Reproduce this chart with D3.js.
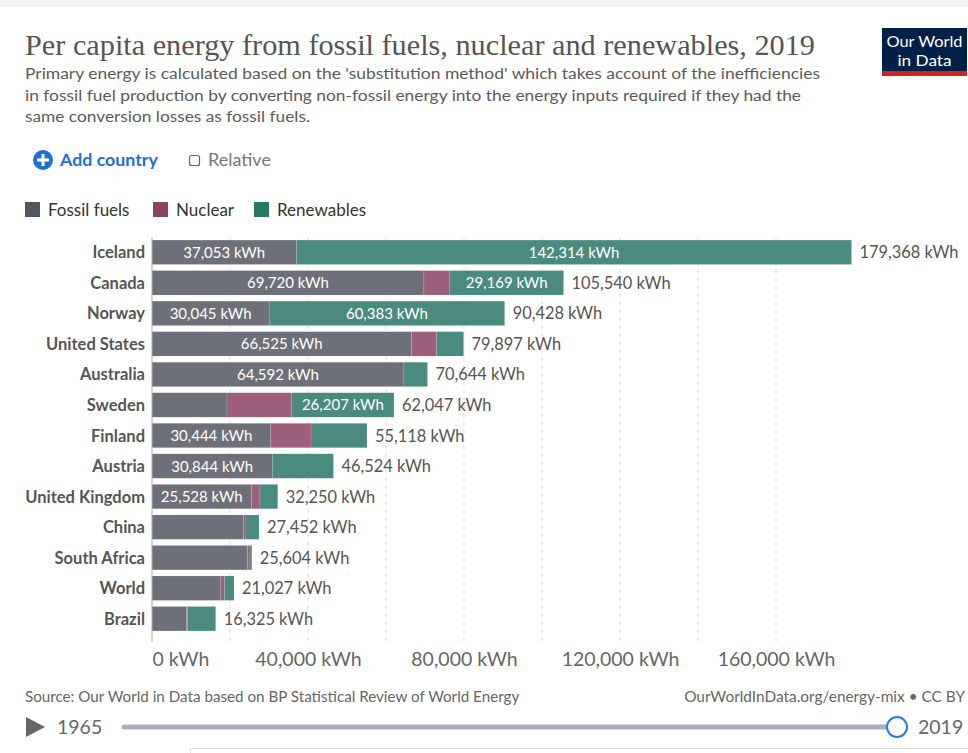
<!DOCTYPE html>
<html><head><meta charset="utf-8">
<script src="https://cdn.jsdelivr.net/npm/d3@7"></script>
<style>
body{margin:0;background:#fff;}
svg{display:block;font-family:Lato,"Noto Sans",sans-serif;}
</style></head>
<body><svg id="c" width="968" height="753"></svg>
<script>
const countries = ["Iceland","Canada","Norway","United States","Australia","Sweden","Finland","Austria","United Kingdom","China","South Africa","World","Brazil"];
const fossil     = [37053, 69720, 30045, 66525, 64592, 19230, 30444, 30844, 25528, 23500, 24500, 17650,  8900];
const nuclear    = [    0,  6651,     0,  6420,     0, 16610, 10330,     0,  2150,   600,   620,   910,   200];
const renewables = [142314, 29169, 60383, 6952,  6052, 26207, 14344, 15680,  4572,  3352,   484,  2467,  7225];
const totals     = [179368,105540, 90428, 79897, 70644, 62047, 55118, 46524, 32250, 27452, 25604, 21027, 16325];
const seriesNames = ["Fossil fuels","Nuclear","Renewables"];
const barColors = ["#6e7079","#9c5f7c","#4b8a7f"];
const legendColors = ["#54575f","#8a4565","#2a7765"];
const tickValues = [0,40000,80000,120000,160000];
const gridValues = [20000,40000,60000,80000,100000,120000,140000,160000];

const svg = d3.select("#c");
const fmt = d3.format(",");

// top strip
svg.append("rect").attr("x",0).attr("y",0).attr("width",968).attr("height",7).attr("fill","#f3f3f3");

// title
svg.append("text").attr("x",25).attr("y",55).text("Per capita energy from fossil fuels, nuclear and renewables, 2019")
  .attr("font-family","'Liberation Serif','DejaVu Serif',serif").attr("font-size",29).attr("fill","#555")
  .attr("textLength",790).attr("lengthAdjust","spacingAndGlyphs");
const sub = ["Primary energy is calculated based on the 'substitution method' which takes account of the inefficiencies",
 "in fossil fuel production by converting non-fossil energy into the energy inputs required if they had the",
 "same conversion losses as fossil fuels."];
const subW = [795, 776, 285];
sub.forEach((s,i)=>svg.append("text").attr("x",25).attr("y",79+i*21.5).text(s)
  .attr("font-size",15.5).attr("fill","#5b5b5b").attr("textLength",subW[i]).attr("lengthAdjust","spacingAndGlyphs"));

// logo
svg.append("rect").attr("x",882).attr("y",28).attr("width",85).attr("height",48).attr("fill","#002147");
svg.append("rect").attr("x",882).attr("y",71).attr("width",85).attr("height",5).attr("fill","#ce261e");
svg.append("text").attr("x",924.5).attr("y",47).attr("text-anchor","middle").attr("fill","#fff").attr("font-size",15)
  .attr("textLength",76).attr("lengthAdjust","spacingAndGlyphs").text("Our World");
svg.append("text").attr("x",924.5).attr("y",65.5).attr("text-anchor","middle").attr("fill","#fff").attr("font-size",15)
  .attr("textLength",54).attr("lengthAdjust","spacingAndGlyphs").text("in Data");

// controls
svg.append("circle").attr("cx",43).attr("cy",160).attr("r",10).attr("fill","#1f6fd6");
svg.append("path").attr("d","M43,154V166M37,160H49").attr("stroke","#fff").attr("stroke-width",3);
svg.append("text").attr("x",60).attr("y",166).attr("font-size",17.8).attr("font-weight","bold").attr("fill","#1f6fd6").text("Add country");
svg.append("rect").attr("x",189.5).attr("y",155.5).attr("width",10).attr("height",10).attr("rx",2).attr("fill","#fff").attr("stroke","#666").attr("stroke-width",1.2);
svg.append("text").attr("x",208).attr("y",166).attr("font-size",18).attr("fill","#777").text("Relative");

// legend
const legX = [25,153,254];
seriesNames.forEach((n,i)=>{
  svg.append("rect").attr("x",legX[i]).attr("y",202).attr("width",15).attr("height",15).attr("fill",legendColors[i]);
  svg.append("text").attr("x",legX[i]+23).attr("y",215.5).attr("font-size",17).attr("fill","#333").text(n);
});

// scales
const x = d3.scaleLinear().domain([0,180000]).range([152,854]);
const y = d3.scaleBand().domain(countries).range([237,634]).paddingInner(0.2).paddingOuter(0.1);

// grid
svg.append("g").selectAll("line").data(gridValues).join("line")
  .attr("x1",d=>x(d)).attr("x2",d=>x(d)).attr("y1",237).attr("y2",642)
  .attr("stroke","#d9d9d9").attr("stroke-dasharray","4,4");

// stacked bars
const rows = countries.map((c,i)=>({country:c,"Fossil fuels":fossil[i],"Nuclear":nuclear[i],"Renewables":renewables[i],total:totals[i]}));
const stack = d3.stack().keys(seriesNames)(rows);
const g = svg.append("g");
stack.forEach((layer,si)=>{
  layer.forEach(d=>{
    const w = x(d[1])-x(d[0]);
    if (w<=0) return;
    g.append("rect").attr("x",x(d[0])).attr("y",y(d.data.country)).attr("width",w).attr("height",y.bandwidth())
      .attr("fill",barColors[si]).attr("stroke","#fff").attr("stroke-opacity",0.25).attr("stroke-width",0.5);
  });
});
// segment labels
stack.forEach((layer,si)=>{
  layer.forEach(d=>{
    const w = x(d[1])-x(d[0]);
    const v = d[1]-d[0];
    if (v<=0) return;
    const t = g.append("text").attr("x",(x(d[0])+x(d[1]))/2).attr("y",y(d.data.country)+y.bandwidth()/2+5.5)
      .attr("text-anchor","middle").attr("fill","#fff").attr("font-size",15).text(fmt(v)+" kWh");
    if (t.node().getComputedTextLength()+16 > w) t.remove();
  });
});
// totals
g.selectAll("text.tot").data(rows).join("text").attr("class","tot")
  .attr("x",d=>x(d.total)+8).attr("y",d=>y(d.country)+y.bandwidth()/2+6)
  .attr("font-size",16.4).attr("fill","#555").text(d=>fmt(d.total)+" kWh");
// category labels
g.selectAll("text.cat").data(countries).join("text").attr("class","cat")
  .attr("x",145).attr("y",d=>y(d)+y.bandwidth()/2+6).attr("text-anchor","end")
  .attr("font-size",16.5).attr("font-weight","bold").attr("fill","#555").text(d=>d);

// axis line
svg.append("line").attr("x1",152).attr("x2",152).attr("y1",237).attr("y2",642).attr("stroke","#aaa");
// x tick labels
const xa = d3.axisBottom(x).tickValues(tickValues).tickSize(0).tickFormat(d=>fmt(d)+" kWh");
const ag = svg.append("g").attr("transform","translate(0,649)").call(xa);
ag.select(".domain").remove();
ag.selectAll("text").attr("font-size",19.5).attr("fill","#666").attr("font-family","Lato,sans-serif");
ag.selectAll(".tick").filter(d=>d===0).select("text").attr("text-anchor","start");

// footer
svg.append("text").attr("x",25).attr("y",702).attr("font-size",15.2).attr("fill","#666").text("Source: Our World in Data based on BP Statistical Review of World Energy");
svg.append("text").attr("x",965).attr("y",702).attr("text-anchor","end").attr("font-size",15.4).attr("fill","#666").text("OurWorldInData.org/energy-mix • CC BY");

// timeline
svg.append("path").attr("d","M26,717L26,737L45,727Z").attr("fill","#666");
svg.append("text").attr("x",57).attr("y",734).attr("font-size",19.5).attr("fill","#666").text("1965");
svg.append("line").attr("x1",124).attr("x2",895).attr("y1",727).attr("y2",727).attr("stroke","#a9b1bb").attr("stroke-width",5).attr("stroke-linecap","round");
svg.append("circle").attr("cx",897).attr("cy",727).attr("r",10).attr("fill","#fff").attr("stroke","#2d7be0").attr("stroke-width",2);
svg.append("text").attr("x",918).attr("y",734).attr("font-size",19.5).attr("fill","#666").text("2019");
svg.append("line").attr("x1",190).attr("x2",968).attr("y1",748.5).attr("y2",748.5).attr("stroke","#ddd");
svg.append("line").attr("x1",190.5).attr("x2",190.5).attr("y1",748).attr("y2",753).attr("stroke","#ddd");
</script></body></html>
